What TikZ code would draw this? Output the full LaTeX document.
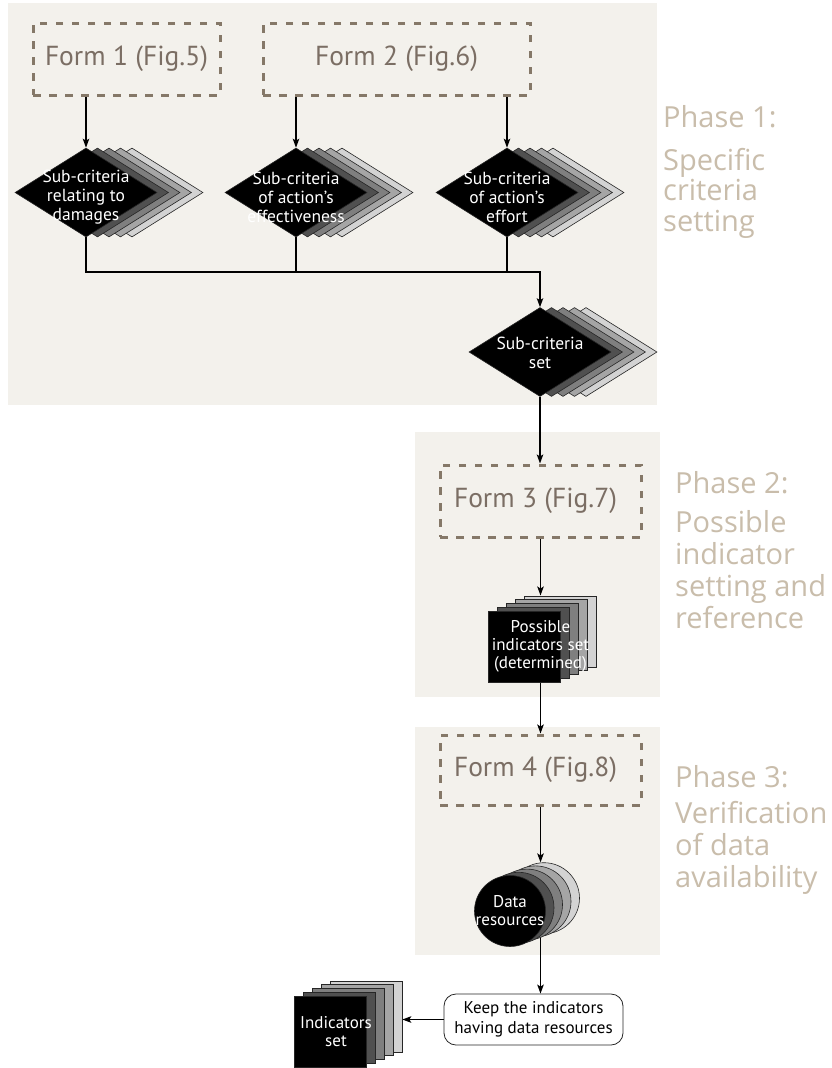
\documentclass[tikz,border=0pt]{standalone}
\usepackage{fontspec}
\newfontfamily\myr{PT Sans}
\newfontfamily\seg{Open Sans}
\usetikzlibrary{shapes.geometric,arrows.meta,calc}
\pgfdeclarelayer{panel}
\pgfdeclarelayer{conn}
\pgfsetlayers{panel,conn,main}
\definecolor{panelc}{HTML}{F3F1EC}
\definecolor{dashc}{HTML}{857868}
\definecolor{formt}{HTML}{7B6E64}
\definecolor{phaset}{HTML}{C9BDAB}
\definecolor{ga}{HTML}{505050}
\definecolor{gb}{HTML}{7F7F7F}
\definecolor{gc}{HTML}{A5A5A5}
\definecolor{gd}{HTML}{D3D3D3}
\tikzset{
  panelbox/.style={fill=panelc, draw=none},
  formbox/.style={draw=dashc, line width=3, dash pattern=on 7.5 off 8.5, inner sep=0, minimum height=72},
  formtext/.style={text=formt, font=\myr\fontsize{27.5}{30}\selectfont, inner sep=0},
  phase/.style={text=phaset, inner sep=0, align=left},
  layer/.style={draw=black!85, line width=0.6, inner sep=0},
  dia/.style={layer, diamond, minimum width=142, minimum height=89},
  sq/.style={layer, rectangle, minimum width=72, minimum height=71},
  circ/.style={layer, circle, minimum size=71},
  wtext/.style={text=white, align=center, inner sep=0},
  dtext/.style={wtext, font=\myr\fontsize{17.5}{19}\selectfont},
  stext/.style={wtext, font=\myr\fontsize{17}{18}\selectfont},
  keepbox/.style={draw=black!85, line width=0.8, rounded corners=12, fill=white, minimum width=179, minimum height=51, align=center, inner sep=0, font=\myr\fontsize{17}{20}\selectfont},
  conline/.style={line width=1.4, draw=black},
  arr/.style={conline, -{Stealth[length=9, width=6.5, inset=2]}},
}
\newcommand\diastack[5]{%
  \foreach \i/\c in {4/gd,3/gc,2/gb,1/ga}{\node[dia, fill=\c] (#1-\i) at ({#2+\i*11.5},#3) {};}
  \node[dia, fill=black, label={[dtext,yshift=#5]center:#4}] (#1) at (#2,#3) {};}
\newcommand\sqstack[5]{%
  \foreach \i/\c in {4/gd,3/gc,2/gb,1/ga}{\node[sq, fill=\c] (#1-\i) at ({#2+\i*9},{#3-\i*3.8}) {};}
  \node[sq, fill=black, label={[stext,xshift=#5]center:#4}] (#1) at (#2,#3) {};}
\newcommand\circstack[4]{%
  \foreach \i/\c in {4/gd,3/gc,2/gb,1/ga}{\node[circ, fill=\c] (#1-\i) at ({#2+\i*8.5},{#3-\i*3.2}) {};}
  \node[circ, fill=black, label={[stext]center:#4}] (#1) at (#2,#3) {};}
\begin{document}
\begin{tikzpicture}[x=1pt,y=-1pt]
\useasboundingbox (0,0) rectangle (832,1068);
\begin{pgfonlayer}{panel}
\fill[white] (0,0) rectangle (832,1068);
\fill[panelbox] (8,3) rectangle (657,405);
\fill[panelbox] (415,432) rectangle (660,697);
\fill[panelbox] (415,727) rectangle (660,955);
\end{pgfonlayer}

% dashed form boxes
\node[formbox, minimum width=187, label={[formtext]center:Form 1 (Fig.5)}] (f1) at (126.5,59) {};
\node[formbox, minimum width=267, label={[formtext]center:Form 2 (Fig.6)}] (f2) at (396.5,59) {};
\node[formbox, minimum width=201, label={[formtext,xshift=-5]center:Form 3 (Fig.7)}] (f3) at (540.5,501) {};
\node[formbox, minimum width=201, minimum height=70, label={[formtext,xshift=-5]center:Form 4 (Fig.8)}] (f4) at (540.5,770) {};

% stacks
\diastack{d1}{86}{192.5}{Sub-criteria\\relating to\\damages}{-5}
\diastack{d2}{296}{192.5}{Sub-criteria\\of action’s\\effectiveness}{-5}
\diastack{d3}{507}{192.5}{Sub-criteria\\of action’s\\effort}{-5}
\diastack{d4}{540}{352}{Sub-criteria\\set}{-1}
\sqstack{pi}{524.5}{646.5}{Possible\\indicators set\\(determined)}{16}
\circstack{dr}{510}{911}{Data\\resources}
\sqstack{is}{330}{1031.5}{Indicators\\set}{6}
\node[keepbox] (keep) at (533.5,1019.5) {Keep the indicators\\having data resources};

% phase labels
\node[phase, font=\seg\fontsize{29}{30.5}\selectfont, anchor=base west] (p1t) at (663,127) {Phase 1:};
\node[phase, font=\seg\fontsize{29}{30.5}\selectfont, anchor=north west] (p1b) at (663,148) {Specific\\criteria\\setting};
\node[phase, font=\seg\fontsize{29}{32}\selectfont, anchor=base west] (p2t) at (675,493) {Phase 2:};
\node[phase, font=\seg\fontsize{29}{32}\selectfont, anchor=north west] (p2b) at (675,510) {Possible\\indicator\\setting and\\reference};
\node[phase, font=\seg\fontsize{29}{32}\selectfont, anchor=base west] (p3t) at (675,787) {Phase 3:};
\node[phase, font=\seg\fontsize{29}{32}\selectfont, anchor=north west] (p3b) at (675,801) {Verification\\of data\\availability};

% connectors
\begin{pgfonlayer}{conn}
\coordinate (m) at (540,272);
\draw[arr] (f1.south -| d1) -- (d1.north);
\draw[arr] (f2.south -| d2) -- (d2.north);
\draw[arr] (f2.south -| d3) -- (d3.north);
\draw[arr] (d1.south) |- (m) -- (d4.north);
\draw[conline] (d2.south) -- (d2.south |- m);
\draw[conline] (d3.south) -- (d3.south |- m);
\draw[arr] (d4.south) -- (d4.south |- f3.north);
\draw[arr] (f3.south) -- (f3.south |- pi-4.north);
\draw[arr] (f4.north |- pi.center) -- (f4.north);
\draw[arr] (f4.south) -- (f4.south |- dr-4.north);
\draw[arr] (dr.center -| f4.south) -- (keep.north -| f4.south);
\draw[arr] (keep.west) -- (keep.west -| is-4.east);
\end{pgfonlayer}
\end{tikzpicture}
\end{document}
